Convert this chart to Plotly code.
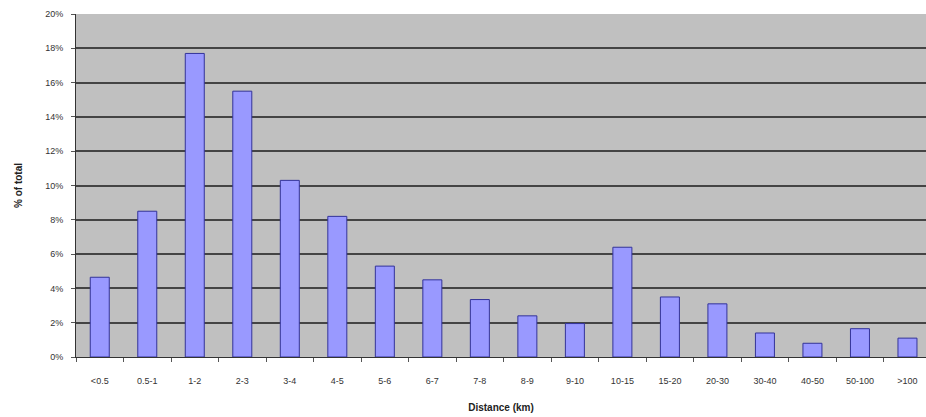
import plotly.graph_objects as go

categories = ["<0.5", "0.5-1", "1-2", "2-3", "3-4", "4-5", "5-6", "6-7", "7-8", "8-9",
              "9-10", "10-15", "15-20", "20-30", "30-40", "40-50", "50-100", ">100"]
percent_of_total = [4.65, 8.5, 17.7, 15.5, 10.3, 8.2, 5.3, 4.5, 3.35, 2.4,
                    1.95, 6.4, 3.5, 3.1, 1.4, 0.8, 1.65, 1.1]
y_tick_values = [0, 2, 4, 6, 8, 10, 12, 14, 16, 18, 20]
y_tick_labels = [f"{v}%" for v in y_tick_values]

fig = go.Figure(go.Bar(
    x=categories,
    y=percent_of_total,
    marker=dict(color="#9999FF", line=dict(color="#333399", width=1)),
    width=0.4,
))

fig.update_layout(
    width=926, height=417,
    margin=dict(l=76, r=0, t=14, b=60),
    paper_bgcolor="white",
    plot_bgcolor="#C0C0C0",
    font=dict(family="Liberation Sans, Arial, sans-serif", size=9, color="#333333"),
    showlegend=False,
    bargap=0.6,
)

fig.update_xaxes(
    type="category",
    range=[-0.5, 17.39],
    showgrid=False,
    showline=True, linecolor="#333333", linewidth=1,
    ticks="outside", tickson="boundaries", ticklen=4, tickcolor="#555555",
    ticklabelstandoff=15,
    tickfont=dict(size=9, color="#333333"),
    title=dict(text="<b>Distance (km)</b>", font=dict(size=10, color="#222222"), standoff=19),
)

fig.update_yaxes(
    range=[0, 20],
    tickvals=y_tick_values,
    ticktext=y_tick_labels,
    showgrid=True, gridcolor="#444444", gridwidth=1.5,
    zeroline=False,
    showline=True, linecolor="#333333", linewidth=1,
    ticks="outside", ticklen=4, tickcolor="#555555",
    ticklabelstandoff=6,
    tickfont=dict(size=9, color="#333333"),
    title=dict(text="<b>% of total</b>", font=dict(size=10, color="#222222"), standoff=20),
)

fig.write_html("out.html")
